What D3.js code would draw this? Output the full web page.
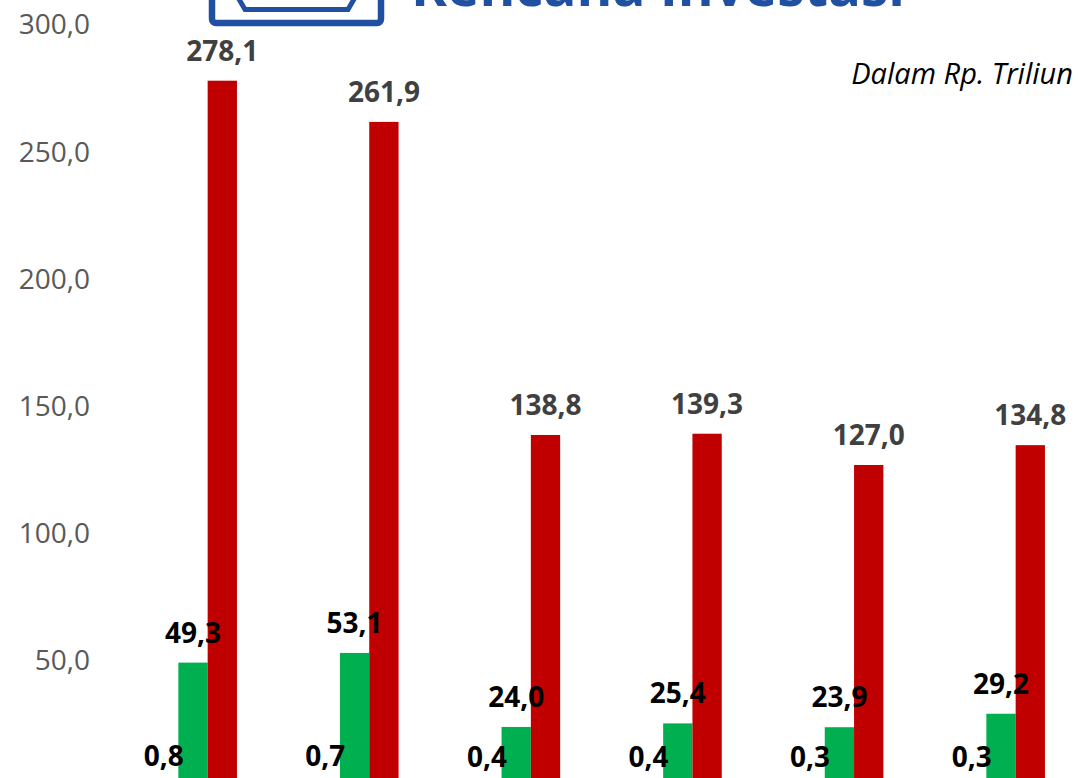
<!DOCTYPE html>
<html>
<head>
<meta charset="utf-8">
<script src="https://cdn.jsdelivr.net/npm/d3@7"></script>
<style>
	body { margin: 0; background: #fff; }
	svg { display: block; }
</style>
</head>
<body>
<div id="chart"></div>
<script>
// categories are below the visible area in the reference, names are placeholders
const categories = [ 'K1', 'K2', 'K3', 'K4', 'K5', 'K6' ];
const seriesNames = [ 'Seri A', 'Seri B', 'Seri C' ];
const seriesA = [ 0.8, 0.7, 0.4, 0.4, 0.3, 0.3 ];
const seriesB = [ 49.3, 53.1, 24.0, 25.4, 23.9, 29.2 ];
const seriesC = [ 278.1, 261.9, 138.8, 139.3, 127.0, 134.8 ];
const yTicks = [ 50, 100, 150, 200, 250, 300 ];

const width = 1078,
	height = 778;

const colors = { 'Seri A': '#4472c4', 'Seri B': '#00b050', 'Seri C': '#c00000' };
const labelColors = { 'Seri A': '#000', 'Seri B': '#000', 'Seri C': '#404040' };

const fmt = (v) => d3.format('.1f')(v).replace('.', ',');

const svg = d3.select('#chart').append('svg').attr('width', width).attr('height', height);

// scales
const x0 = d3.scaleBand().domain(categories).range([ 112.2, 1081.8 ]).padding(0);
const step = x0.bandwidth();
const barW = 29.3;
// three bars side by side, middle (green) bar centered in its band
const x1 = d3.scaleBand().domain(seriesNames).range([ step / 2 - barW * 1.5, step / 2 + barW * 1.5 ]).padding(0);
const y = d3.scaleLinear().domain([ 0, 300 ]).range([ 788, 25 ]);

// header logo (cut off at top)
const logo = svg.append('g');
logo
	.append('rect')
	.attr('x', 212)
	.attr('y', -40)
	.attr('width', 169)
	.attr('height', 63)
	.attr('rx', 4)
	.attr('fill', 'none')
	.attr('stroke', '#2050a2')
	.attr('stroke-width', 6.5);
logo
	.append('path')
	.attr('d', 'M236,-6 L245,9.5 L348,9.5 L357,-6')
	.attr('fill', 'none')
	.attr('stroke', '#2050a2')
	.attr('stroke-width', 5);
logo
	.append('text')
	.attr('x', 411)
	.attr('y', 6)
	.attr('textLength', 494)
	.attr('lengthAdjust', 'spacingAndGlyphs')
	.style('font-family', '"Open Sans", sans-serif')
	.style('font-weight', 'bold')
	.style('font-size', '56px')
	.style('fill', '#2050a2')
	.text('Rencana Investasi');

svg
	.append('text')
	.attr('x', 1073)
	.attr('y', 84)
	.attr('text-anchor', 'end')
	.style('font-family', '"Open Sans", sans-serif')
	.style('font-style', 'italic')
	.style('font-size', '29px')
	.style('fill', '#000')
	.text('Dalam Rp. Triliun');

// y axis labels only (no line, no ticks)
const yAxis = d3.axisLeft(y).tickValues(yTicks).tickFormat(fmt).tickSize(0).tickPadding(0);
const yG = svg.append('g').attr('transform', 'translate(90,0)').call(yAxis);
yG.select('.domain').remove();
yG
	.selectAll('text')
	.style('font-family', '"Open Sans", sans-serif')
	.style('font-size', '28px')
	.style('fill', '#595959');

// build rows for bars
const allSeries = [ seriesA, seriesB, seriesC ];
const rows = [];
seriesNames.forEach((s, i) => {
	categories.forEach((c, j) => {
		rows.push({ series: s, cat: c, value: allSeries[i][j] });
	});
});

const bx = (d) => x0(d.cat) + x1(d.series);

svg
	.append('g')
	.selectAll('rect')
	.data(rows)
	.enter()
	.append('rect')
	.attr('x', bx)
	.attr('y', (d) => y(d.value))
	.attr('width', x1.bandwidth())
	.attr('height', (d) => y(0) - y(d.value))
	.attr('fill', (d) => colors[d.series]);

// data labels
svg
	.append('g')
	.selectAll('text')
	.data(rows)
	.enter()
	.append('text')
	.attr('x', (d) => bx(d) + x1.bandwidth() / 2)
	.attr('y', (d) => y(d.value) - 20)
	.attr('text-anchor', 'middle')
	.style('font-family', '"Open Sans", sans-serif')
	.style('font-weight', 'bold')
	.style('font-size', '28px')
	.style('fill', (d) => labelColors[d.series])
	.text((d) => fmt(d.value));
</script>
</body>
</html>
